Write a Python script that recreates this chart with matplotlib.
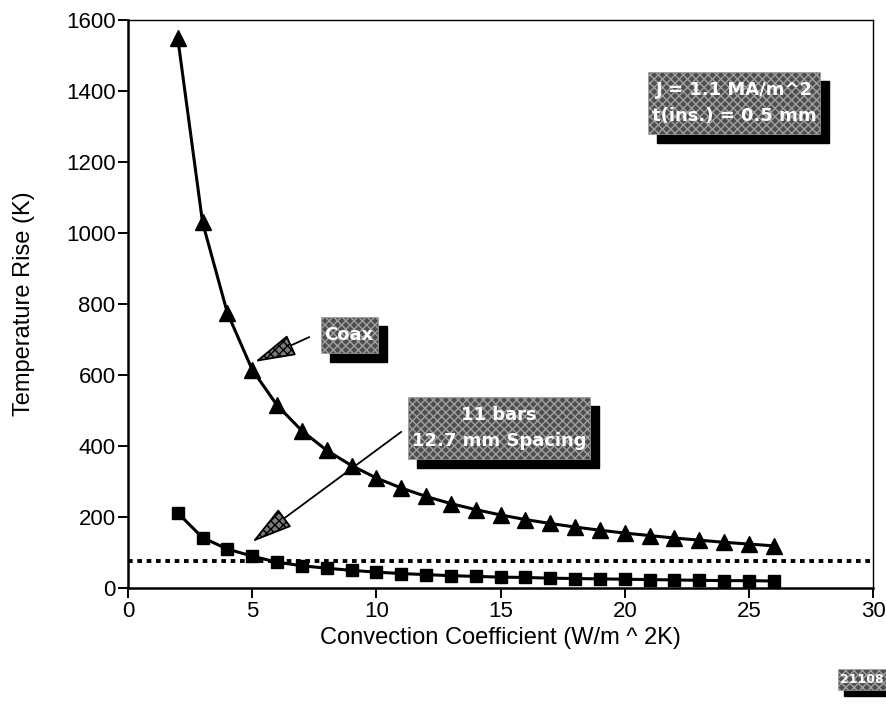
import matplotlib
matplotlib.use('Agg')
import matplotlib.pyplot as plt
from matplotlib.patches import Rectangle

plt.rcParams['font.family'] = ['Liberation Sans', 'DejaVu Sans']

h = list(range(2, 27))
coax = [1550, 1030, 775, 615, 515, 443, 388, 345, 310, 282, 258, 238, 221, 206,
        193, 182, 172, 163, 155, 148, 141, 135, 129, 124, 119]
bars = [212, 142, 110, 90, 73, 63, 56, 50, 45, 41, 38, 35, 33, 31,
        30, 28, 27, 26, 25, 24, 23, 22, 21, 21, 20]
limit = 76

xticks = [0, 5, 10, 15, 20, 25, 30]
yticks = [0, 200, 400, 600, 800, 1000, 1200, 1400, 1600]


def label_box(ax, x, y, text, fs=13, coords='data'):
    return ax.annotate(text, (x, y), xycoords=coords, ha='center', va='center',
                       fontsize=fs, fontweight='bold', family='DejaVu Sans',
                       color='white', linespacing=1.55, zorder=6,
                       annotation_clip=False)


def add_boxes(fig, ax, texts, padx=4, pady=9, shift=9):
    # grey hatched box with a black drop shadow behind each label
    fig.canvas.draw()
    r = fig.canvas.get_renderer()
    inv = ax.transAxes.inverted()
    for t in texts:
        bb = t.get_window_extent(r)
        x0, y0 = bb.x0 - padx, bb.y0 - pady
        x1, y1 = bb.x1 + padx, bb.y1 + pady
        for dx, dy, kw in [(shift, -shift, dict(fc='black', ec='black', zorder=4)),
                           (0, 0, dict(fc='#4e4e4e', ec='#a0a0a0', hatch='xxxx',
                                       lw=0.5, zorder=5))]:
            (ax0, ay0) = inv.transform((x0 + dx, y0 + dy))
            (ax1, ay1) = inv.transform((x1 + dx, y1 + dy))
            ax.add_patch(Rectangle((ax0, ay0), ax1 - ax0, ay1 - ay0,
                                   transform=ax.transAxes, clip_on=False, **kw))


def main():
    fig = plt.figure(figsize=(8.86, 7.12), dpi=100)
    ax = fig.add_axes([0.1445, 0.174, 0.841, 0.798])

    ax.plot(h, coax, color='black', lw=2.2, marker='^', ms=11)
    ax.plot(h, bars, color='black', lw=2.2, marker='s', ms=9)
    ax.axhline(limit, color='black', lw=2.8, ls=(0, (1.2, 1.2)))

    ax.set_xlim(0, 30)
    ax.set_ylim(0, 1600)
    ax.set_xticks(xticks)
    ax.set_yticks(yticks)
    ax.tick_params(labelsize=16, length=7, width=1.4, pad=2)
    ax.spines['top'].set_linewidth(1.0)
    ax.spines['right'].set_linewidth(1.0)
    ax.spines['left'].set_linewidth(1.8)
    ax.spines['bottom'].set_linewidth(1.8)
    ax.set_xlabel('Convection Coefficient (W/m ^ 2K)', fontsize=17, labelpad=4)
    ax.set_ylabel('Temperature Rise (K)', fontsize=17, labelpad=22)

    arrow = dict(arrowstyle='-|>,head_length=1.3,head_width=0.35',
                 mutation_scale=20, fc='#7a7a7a', ec='black', lw=1.3,
                 hatch='xxxx', shrinkA=0, shrinkB=0)
    ax.annotate('', xy=(5.1, 637), xytext=(7.3, 707), arrowprops=arrow)
    ax.annotate('', xy=(5.0, 130), xytext=(11.0, 440), arrowprops=arrow)

    texts = [
        label_box(ax, 24.4, 1366, 'J = 1.1 MA/m^2\nt(ins.) = 0.5 mm'),
        label_box(ax, 8.9, 713, 'Coax'),
        label_box(ax, 14.94, 451, '11 bars\n12.7 mm Spacing'),
        label_box(ax, 0.973, 0.046, '21108', fs=9, coords='figure fraction'),
    ]
    add_boxes(fig, ax, texts[:3])
    add_boxes(fig, ax, texts[3:], padx=2, pady=4, shift=6)

    fig.savefig('out.png', dpi=100)


if __name__ == '__main__':
    main()
